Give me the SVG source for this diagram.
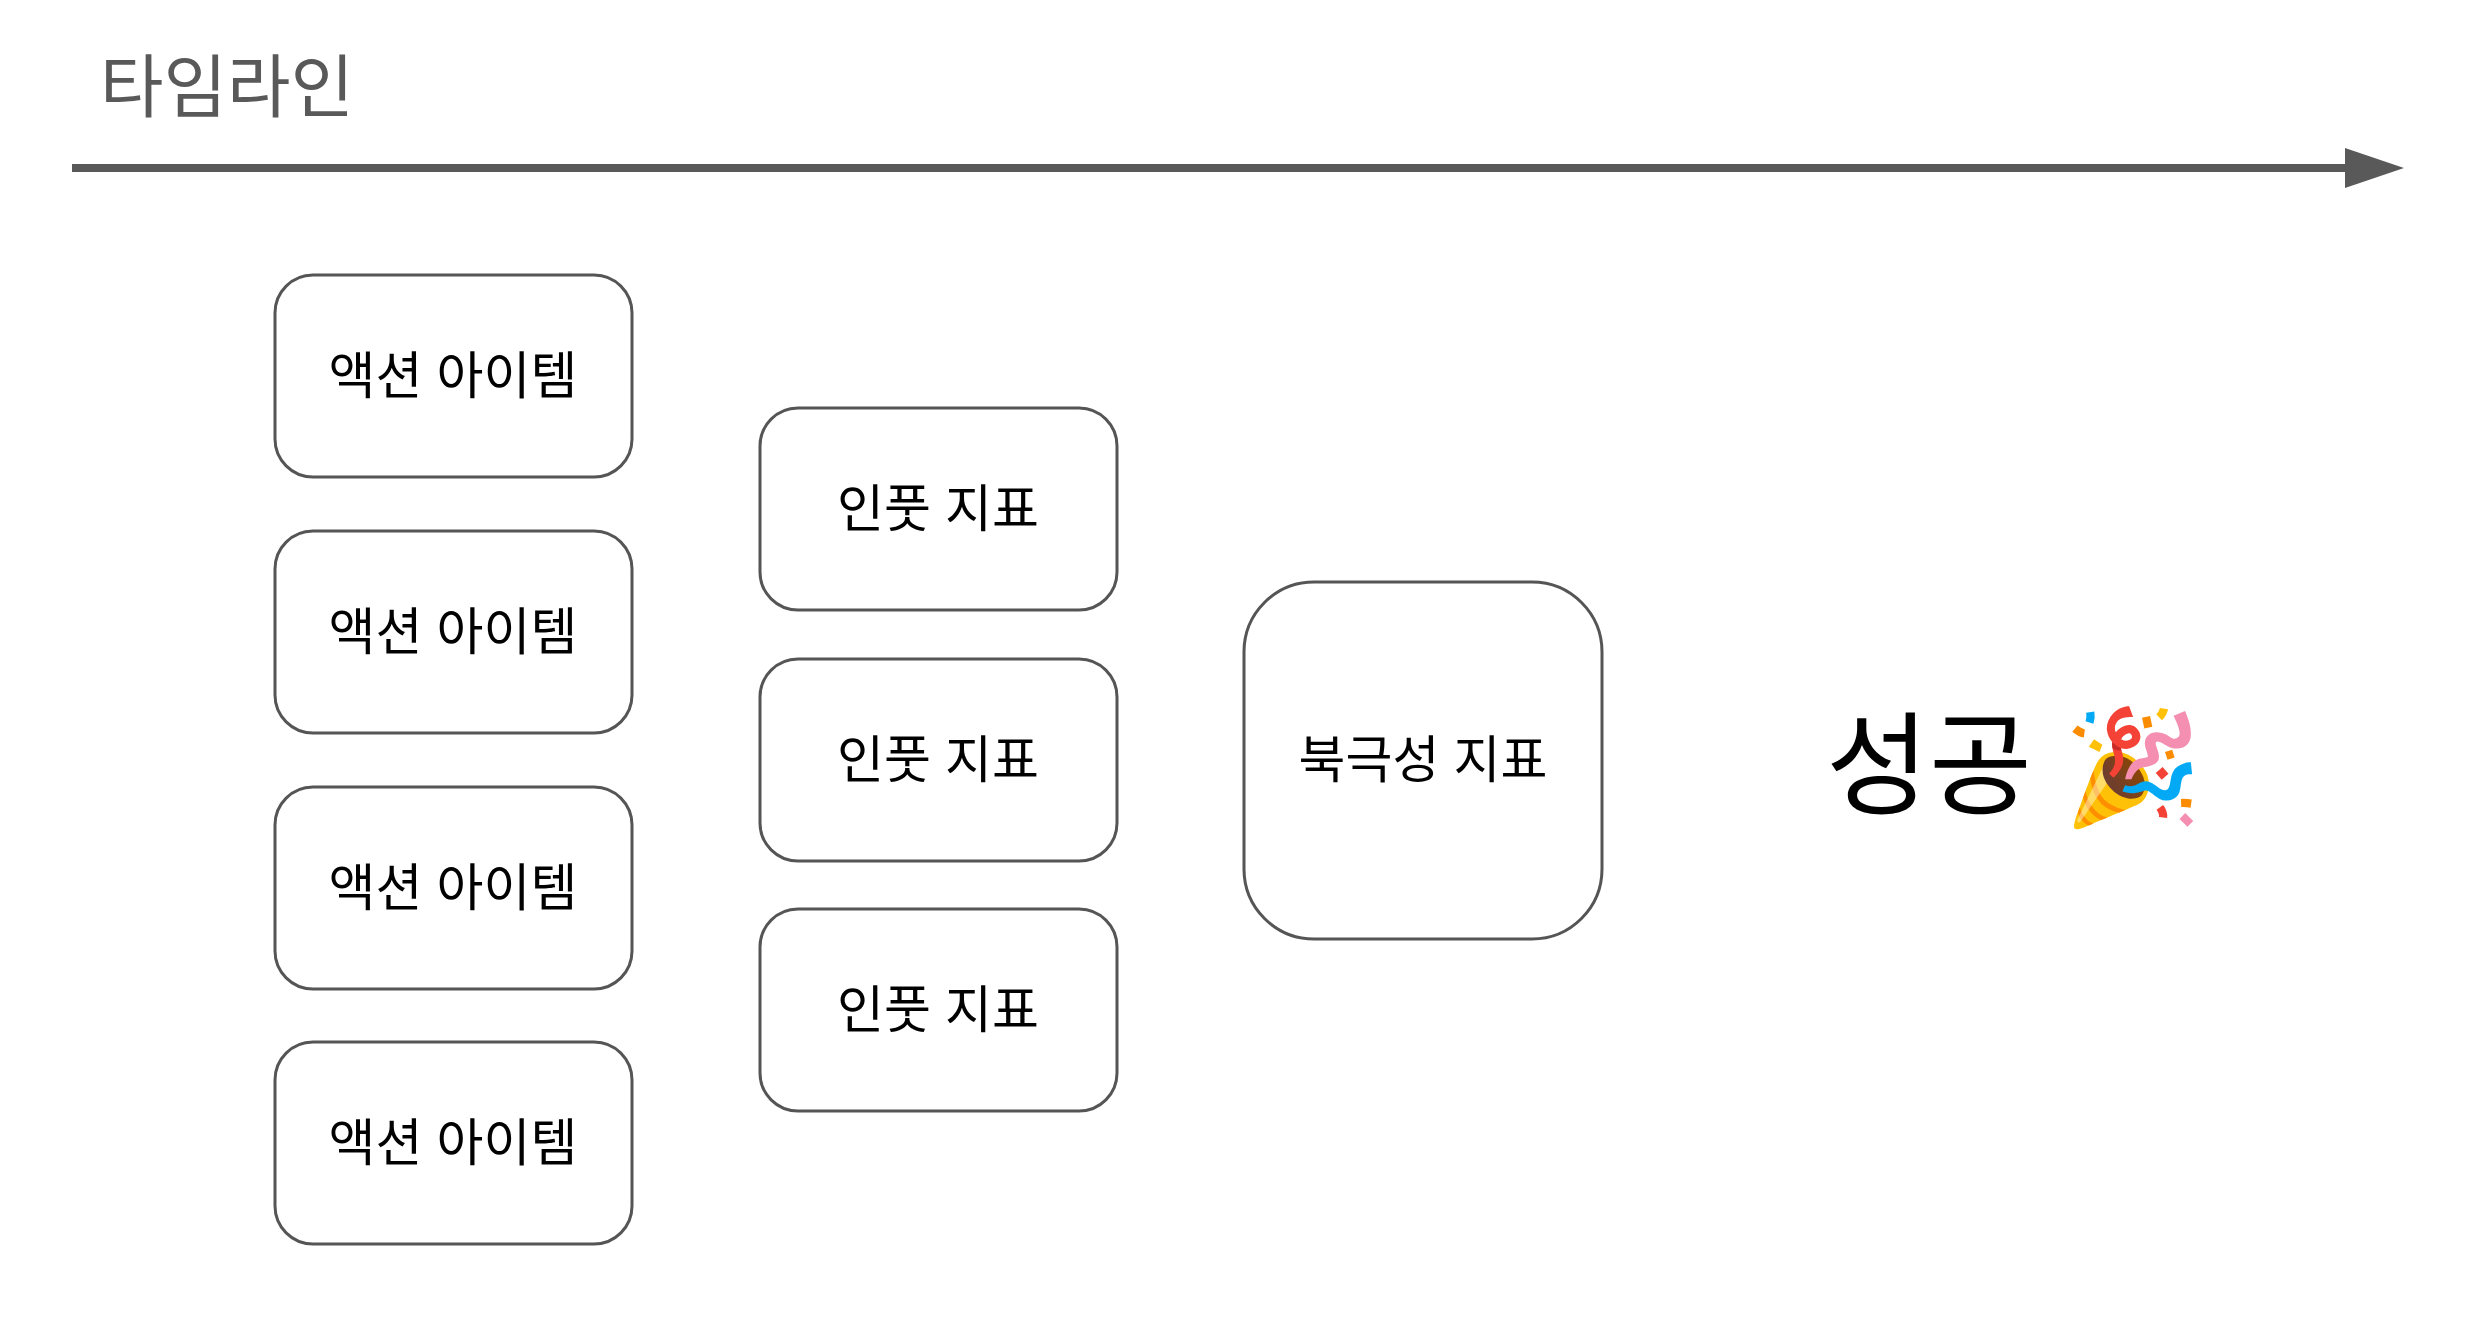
<svg xmlns="http://www.w3.org/2000/svg" width="2491" height="1332" viewBox="0 0 2491 1332">
<style>
.box{fill:#fff;stroke:#555;stroke-width:3}
.t{font-family:"Liberation Sans","Noto Sans CJK KR",sans-serif;font-size:51px;fill:#000;text-anchor:middle;dominant-baseline:central}
</style>
<rect width="2491" height="1332" fill="#fff"/>
<text x="100" y="112" font-family="Liberation Sans,'Noto Sans CJK KR',sans-serif" font-size="69" fill="#595959">타임라인</text>
<g id="connectors">
<line x1="72" y1="168" x2="2350" y2="168" stroke="#595959" stroke-width="8"/>
<polygon points="2345,148 2404,168 2345,188" fill="#595959"/>
</g>
<g id="a1"><rect class="box" x="275" y="275" width="357" height="202" rx="38"/><text class="t" x="453" y="376">액션 아이템</text></g>
<g id="a2"><rect class="box" x="275" y="531" width="357" height="202" rx="38"/><text class="t" x="453" y="632">액션 아이템</text></g>
<g id="a3"><rect class="box" x="275" y="787" width="357" height="202" rx="38"/><text class="t" x="453" y="888">액션 아이템</text></g>
<g id="a4"><rect class="box" x="275" y="1042" width="357" height="202" rx="38"/><text class="t" x="453" y="1143">액션 아이템</text></g>
<g id="i1"><rect class="box" x="760" y="408" width="357" height="202" rx="38"/><text class="t" x="938" y="509">인풋 지표</text></g>
<g id="i2"><rect class="box" x="760" y="659" width="357" height="202" rx="38"/><text class="t" x="938" y="760">인풋 지표</text></g>
<g id="i3"><rect class="box" x="760" y="909" width="357" height="202" rx="38"/><text class="t" x="938" y="1010">인풋 지표</text></g>
<g id="ns"><rect class="box" x="1244" y="582" width="358" height="357" rx="70"/><text class="t" x="1423" y="760">북극성 지표</text></g>
<g id="success"><text x="1826" y="806" font-family="Liberation Sans,'Noto Sans CJK KR',sans-serif" font-size="112" fill="#000">성공 🎉</text></g>
</svg>
